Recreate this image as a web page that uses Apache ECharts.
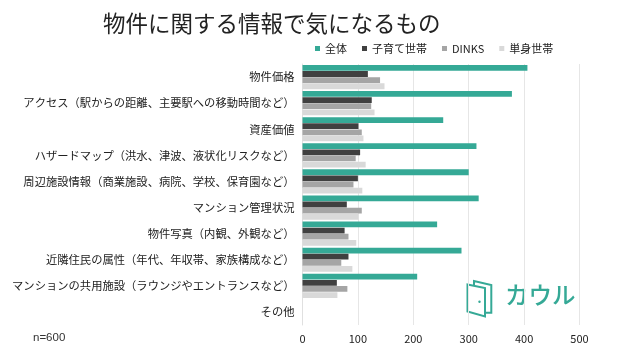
<!DOCTYPE html>
<html>
<head>
<meta charset="utf-8">
<style>
  html, body { margin: 0; padding: 0; background: #fff; }
  #chart { width: 619px; height: 357px; }
</style>
<script src="https://cdn.jsdelivr.net/npm/echarts@6/dist/echarts.min.js"></script>
</head>
<body>
<div id="chart"></div>
<script>
  const categories = [
    '物件価格',
    'アクセス（駅からの距離、主要駅への移動時間など）',
    '資産価値',
    'ハザードマップ（洪水、津波、液状化リスクなど）',
    '周辺施設情報（商業施設、病院、学校、保育園など）',
    'マンション管理状況',
    '物件写真（内観、外観など）',
    '近隣住民の属性（年代、年収帯、家族構成など）',
    'マンションの共用施設（ラウンジやエントランスなど）',
    'その他'
  ];
  const seriesNames = ['全体', '子育て世帯', 'DINKS', '単身世帯'];
  const zentai = [406, 378, 254, 314, 300, 318, 243, 287, 207, 0];
  const kosodate = [118, 125, 101, 104, 100, 80, 76, 83, 62, 0];
  const dinks = [140, 124, 107, 96, 92, 107, 83, 70, 81, 0];
  const tanshin = [148, 130, 110, 114, 108, 101, 97, 90, 63, 0];
  const colors = ['#35a996', '#404040', '#a5a5a5', '#d9d9d9'];
  const font = '"Noto Sans CJK JP", "Noto Sans", sans-serif';
  const teal = '#35a996';

  const makeSeries = (name, values, color) => ({
    name: name,
    type: 'bar',
    data: values,
    barWidth: 5.8,
    barGap: '6%',
    itemStyle: { color: color },
    silent: true
  });

  const option = {
    animation: false,
    backgroundColor: '#fff',
    color: colors,
    title: {
      text: '物件に関する情報で気になるもの',
      left: 103,
      top: 12,
      padding: 0,
      textStyle: { fontFamily: font, fontSize: 22.5, fontWeight: 400, color: '#222' }
    },
    legend: {
      data: seriesNames,
      left: 315,
      top: 43,
      padding: 0,
      itemWidth: 5,
      itemHeight: 5,
      itemGap: 15,
      icon: 'rect',
      textStyle: { fontFamily: font, fontSize: 11, color: '#222' }
    },
    grid: { left: 302.5, right: 39.5, top: 64, bottom: 32 },
    xAxis: {
      type: 'value',
      min: 0,
      max: 500,
      interval: 100,
      axisLine: { show: false },
      axisTick: { show: false },
      axisLabel: { fontFamily: font, fontSize: 11, color: '#222', margin: 8 },
      splitLine: { lineStyle: { color: '#e6e6e6', width: 1 } }
    },
    yAxis: {
      type: 'category',
      data: categories,
      inverse: true,
      axisLine: { lineStyle: { color: '#e0e0e0' } },
      axisTick: { show: false },
      axisLabel: { fontFamily: font, fontSize: 11.3, color: '#222', margin: 8 }
    },
    series: [
      makeSeries(seriesNames[0], zentai, colors[0]),
      makeSeries(seriesNames[1], kosodate, colors[1]),
      makeSeries(seriesNames[2], dinks, colors[2]),
      makeSeries(seriesNames[3], tanshin, colors[3])
    ],
    graphic: [
      {
        type: 'text',
        left: 33,
        top: 332,
        style: { text: 'n=600', fontFamily: 'Liberation Sans, sans-serif', fontSize: 11.5, fill: '#333' }
      },
      // カウル ロゴ
      {
        type: 'text',
        left: 505,
        top: 283,
        style: { text: 'カウル', fontFamily: font, fontSize: 23.5, fontWeight: 500, fill: teal }
      },
      {
        type: 'polygon',
        shape: { points: [[467.5, 284.5], [485, 288], [485, 316.5], [467.5, 311.5]] },
        style: { stroke: teal, lineWidth: 2, fill: 'none' }
      },
      {
        type: 'polyline',
        shape: { points: [[474, 285.5], [474, 281], [491.3, 285], [491.3, 312.7], [486, 312.7]] },
        style: { stroke: teal, lineWidth: 2, fill: 'none' }
      },
      {
        type: 'circle',
        shape: { cx: 479.5, cy: 301.7, r: 1.2 },
        style: { fill: teal }
      }
    ]
  };

  const myChart = echarts.init(document.getElementById('chart'));
  myChart.setOption(option);
</script>
</body>
</html>
